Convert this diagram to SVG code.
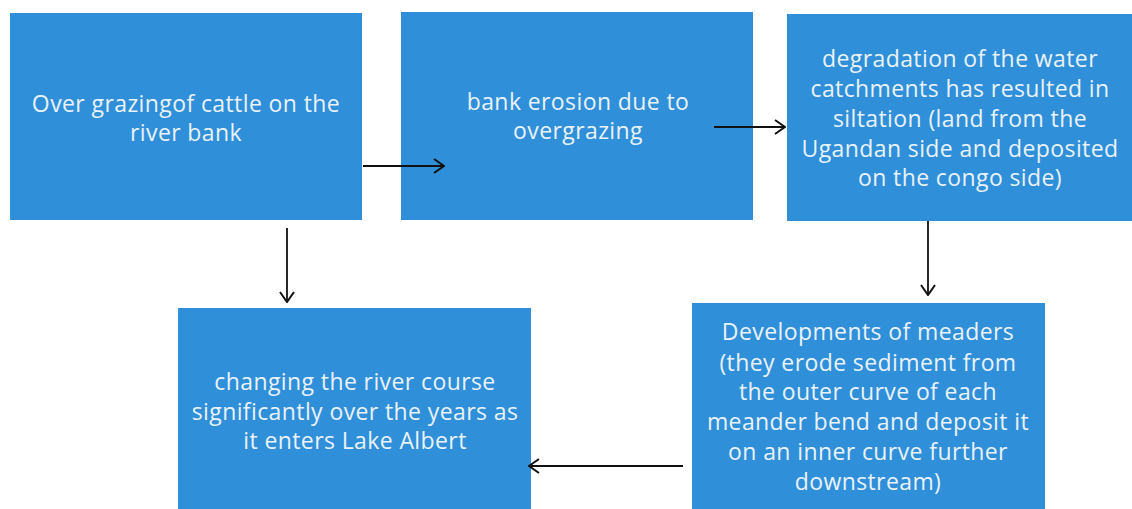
<svg xmlns="http://www.w3.org/2000/svg" width="1132" height="509" viewBox="0 0 1132 509">
<defs>
<style>
.box{fill:#2F8FD9;}
.t{font-family:"Open Sans","Liberation Sans",sans-serif;font-size:23px;letter-spacing:0.4px;fill:#EAF2FA;text-anchor:middle;}
.c{stroke:#111;stroke-width:1.8;fill:none;}
</style>
<marker id="ah" viewBox="0 0 12 16" refX="11" refY="8" markerWidth="12" markerHeight="16" markerUnits="userSpaceOnUse" orient="auto">
<path d="M1,1 L11,8 L1,15" fill="none" stroke="#111" stroke-width="2"/>
</marker>
</defs>
<rect width="1132" height="509" fill="#fff"/>
<g id="n1">
<rect class="box" x="10" y="13" width="352" height="207"/>
<text class="t" x="186" y="112">Over grazingof cattle on the</text>
<text class="t" x="186" y="141">river bank</text>
</g>
<g id="n2">
<rect class="box" x="401" y="12" width="352" height="208"/>
<text class="t" x="578" y="110">bank erosion due to</text>
<text class="t" x="578" y="139">overgrazing</text>
</g>
<g id="n3">
<rect class="box" x="787" y="14" width="345" height="207"/>
<text class="t" x="960" y="67">degradation of the water</text>
<text class="t" x="960" y="97">catchments has resulted in</text>
<text class="t" x="960" y="127">siltation (land from the</text>
<text class="t" x="960" y="157">Ugandan side and deposited</text>
<text class="t" x="960" y="186">on the congo side)</text>
</g>
<g id="n4">
<rect class="box" x="178" y="308" width="353" height="201"/>
<text class="t" x="355" y="390">changing the river course</text>
<text class="t" x="355" y="420">significantly over the years as</text>
<text class="t" x="355" y="449">it enters Lake Albert</text>
</g>
<g id="n5">
<rect class="box" x="692" y="303" width="353" height="206"/>
<text class="t" x="868" y="340">Developments of meaders</text>
<text class="t" x="868" y="371">(they erode sediment from</text>
<text class="t" x="868" y="400">the outer curve of each</text>
<text class="t" x="868" y="430">meander bend and deposit it</text>
<text class="t" x="868" y="460">on an inner curve further</text>
<text class="t" x="868" y="490">downstream)</text>
</g>
<g id="connectors">
<line class="c" x1="363" y1="166" x2="444" y2="166" marker-end="url(#ah)"/>
<line class="c" x1="714" y1="127" x2="785" y2="127" marker-end="url(#ah)"/>
<line class="c" x1="928" y1="221" x2="928" y2="295" marker-end="url(#ah)"/>
<line class="c" x1="287" y1="228" x2="287" y2="302" marker-end="url(#ah)"/>
<line class="c" x1="683" y1="466" x2="529" y2="466" marker-end="url(#ah)"/>
</g>
</svg>
